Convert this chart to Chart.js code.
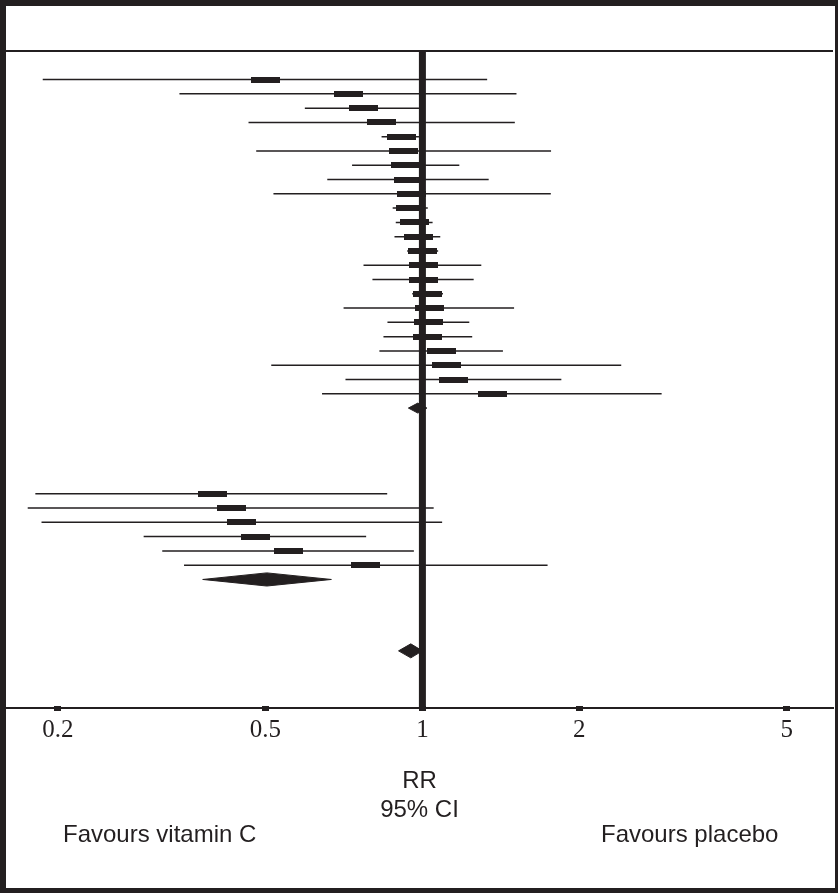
<!DOCTYPE html>
<html>
<head>
<meta charset="utf-8">
<script src="https://cdn.jsdelivr.net/npm/chart.js@4.4.1/dist/chart.umd.min.js"></script>
<style>
html,body{margin:0;padding:0;background:#fff;}
canvas{display:block;}
</style>
</head>
<body>
<canvas id="forest" width="838" height="893"></canvas>
<script>
// Forest plot: risk ratio with 95% CI per trial, log x axis.
const INK='#231f20';

// subgroup 1, 23 trials
const rr1=[0.50,0.72,0.77,0.835,0.91,0.92,0.93,0.94,0.955,0.947,0.967,0.981,1.0,1.003,1.004,1.022,1.03,1.029,1.025,1.087,1.111,1.148,1.362];
const lo1=[0.187,0.342,0.595,0.464,0.835,0.48,0.733,0.657,0.518,0.877,0.889,0.884,0.935,0.771,0.802,0.956,0.706,0.857,0.842,0.827,0.513,0.712,0.642];
const hi1=[1.331,1.515,0.985,1.504,0.985,1.765,1.177,1.34,1.763,1.024,1.046,1.082,1.072,1.297,1.254,1.095,1.499,1.23,1.246,1.427,2.406,1.847,2.876];

// subgroup 2, 6 trials
const rr2=[0.395,0.43,0.45,0.478,0.554,0.779];
const lo2=[0.181,0.175,0.186,0.292,0.317,0.349];
const hi2=[0.856,1.051,1.091,0.78,0.963,1.738];

// pooled estimates: [lo, rr, hi]
const sum1=[0.94,0.98,1.02];
const sum2=[0.379,0.503,0.669];
const sumAll=[0.90,0.95,1.0];

const tickVals=[0.2,0.5,1,2,5];
const xMin=0.159, xMax=6.13;

// row slots (top to bottom)
const start1=1, start2=30, rowAll=41, yTop=-1, yBottom=45;
const row1=start1+rr1.length, row2=start2+rr2.length;

function boxStyle(w,h){
  const c=document.createElement('canvas');c.width=w;c.height=h;
  const g=c.getContext('2d');g.fillStyle=INK;g.fillRect(0,0,w,h);
  return c;
}
function ciSegments(lo,hi,start){
  const out=[];
  lo.forEach((l,i)=>{out.push({x:l,y:start+i},{x:hi[i],y:start+i},{x:null,y:null});});
  return out;
}
function points(rr,start){return rr.map((v,i)=>({x:v,y:start+i}));}
function diamond(s,row,half){
  return [{x:s[0],y:row},{x:s[1],y:row-half},{x:s[2],y:row},{x:s[1],y:row+half},{x:s[0],y:row}];
}
function diamondSet(s,row,half){
  return {data:diamond(s,row,half),showLine:true,fill:'shape',backgroundColor:INK,borderColor:INK,borderWidth:1,pointRadius:0,tension:0,order:2};
}

const framePlugin={
  id:'frame',
  afterDraw(chart){
    const {ctx,chartArea:a,width:W,height:H}=chart;
    ctx.save();
    ctx.fillStyle=INK;
    ctx.fillRect(a.left,a.top-1,a.right-a.left,2);
    ctx.fillRect(0,0,W,6);ctx.fillRect(0,0,6,H);
    ctx.fillRect(W-3,0,3,H);ctx.fillRect(0,H-5,W,5);
    ctx.font='24px "Liberation Sans", Arial, sans-serif';
    ctx.textBaseline='alphabetic';ctx.textAlign='left';
    ctx.fillText('Favours vitamin C',63,842);
    ctx.fillText('Favours placebo',601,842);
    ctx.restore();
  }
};

const box=boxStyle(29,6);
const dot=boxStyle(7,5);

new Chart(document.getElementById('forest'),{
  type:'scatter',
  data:{datasets:[
    {data:[{x:1,y:yTop},{x:1,y:yBottom}],showLine:true,borderColor:INK,borderWidth:7,pointRadius:0,order:0},
    {data:points(rr1,start1).concat(points(rr2,start2)),pointStyle:box,pointRadius:4,order:1},
    diamondSet(sum1,row1,0.35),
    diamondSet(sum2,row2,0.46),
    diamondSet(sumAll,rowAll,0.49),
    {data:ciSegments(lo1,hi1,start1).concat(ciSegments(lo2,hi2,start2)),showLine:true,spanGaps:false,borderColor:INK,borderWidth:1.5,pointRadius:0,order:3},
    {data:tickVals.map(v=>({x:v,y:yBottom})),pointStyle:dot,pointRadius:3,clip:false,order:0}
  ]},
  options:{
    responsive:false,animation:false,events:[],
    layout:{padding:{left:6,right:3,top:51,bottom:0}},
    plugins:{legend:{display:false},tooltip:{enabled:false}},
    scales:{
      x:{type:'logarithmic',min:xMin,max:xMax,
        afterBuildTicks:ax=>{ax.ticks=tickVals.map(v=>({value:v}));},
        afterFit:ax=>{ax.height=185;},
        grid:{display:false,drawTicks:false},
        border:{display:true,color:INK,width:2},
        ticks:{padding:7,color:INK,autoSkip:false,maxRotation:0,
          font:{family:'"Liberation Serif", "Times New Roman", serif',size:25},
          callback:v=>String(v)},
        title:{display:true,text:['RR','95% CI'],color:INK,
          font:{family:'"Liberation Sans", Arial, sans-serif',size:24,lineHeight:29/24},
          padding:{top:0,bottom:68.5}}
      },
      y:{type:'linear',display:false,reverse:true,min:yTop,max:yBottom}
    }
  },
  plugins:[framePlugin]
});
</script>
</body>
</html>
